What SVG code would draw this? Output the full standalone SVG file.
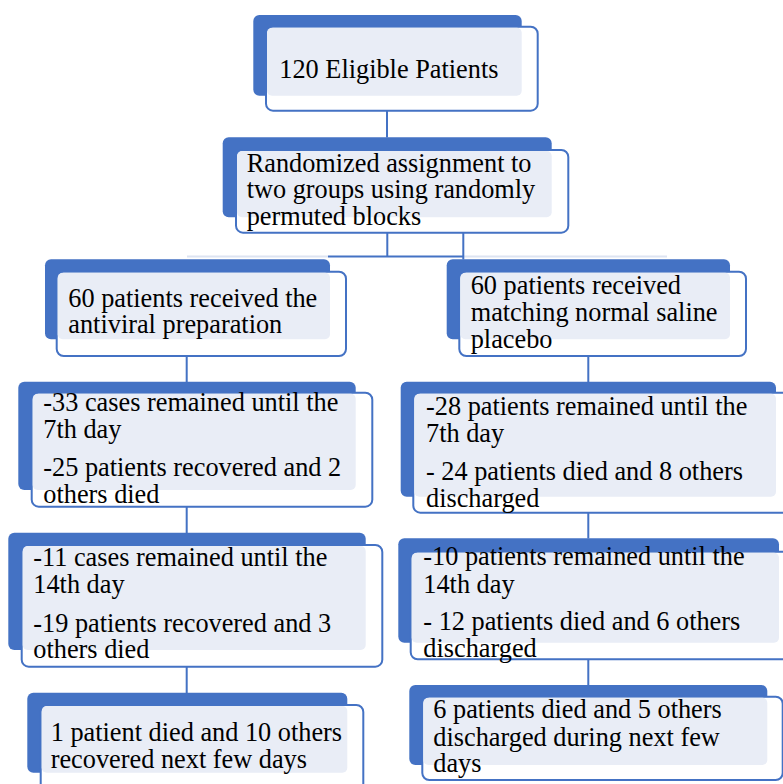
<svg xmlns="http://www.w3.org/2000/svg" width="783" height="784" viewBox="0 0 783 784">
<style>
.back{fill:#4472c4}
.box{fill:#ffffff;stroke:#4472c4;stroke-width:2}
.lite{fill:#e9edf6}
.c{stroke:#4472c4;stroke-width:2;fill:none}
.f{stroke:#dde4f2;stroke-width:2;fill:none}
</style>
<rect width="783" height="784" fill="#ffffff"/>
<g id="connectors">
<path class="f" d="M387 96V111M463.3 218V233M187 256.5H328M463.3 256.5H667M186.7 340V356M588.3 340V356M186.7 490V507M588.3 497V513M186.7 650V667M588.3 643V659"/>
<path class="c" d="M387 111V137.5M387.3 232.7V256.5M463.3 232.7V259.5M328 256.5H463.3M186.7 356V382M588.3 356V382M186.7 506.7V533M588.3 512.7V538.5M186.7 666.7V693M588.3 659.3V685.5"/>
</g>
<g font-family="Liberation Serif, Times New Roman, serif" font-size="26.3" fill="#000000">
<g id="n1">
<rect class="back" x="253.3" y="15" width="268.4" height="80.7" rx="6"/>
<rect class="box" x="266" y="26.7" width="271.7" height="84" rx="7"/>
<rect class="lite" x="267" y="27.7" width="254.7" height="68" rx="5"/>
<text x="279.3" y="78.3">120 Eligible Patients</text>
</g>
<g id="n2">
<rect class="back" x="222.7" y="137.3" width="329" height="80" rx="6"/>
<rect class="box" x="236" y="150" width="332.3" height="82.7" rx="7"/>
<rect class="lite" x="237" y="151" width="314.7" height="66.3" rx="5"/>
<text><tspan x="246.7" y="171.7">Randomized assignment to</tspan><tspan x="246.7" y="198.3">two groups using randomly</tspan><tspan x="246.7" y="225">permuted blocks</tspan></text>
</g>
<g id="n3a">
<rect class="back" x="45" y="259.3" width="285" height="80" rx="6"/>
<rect class="box" x="56.7" y="271.7" width="289.3" height="84.3" rx="7"/>
<rect class="lite" x="57.7" y="272.7" width="272.3" height="66.6" rx="5"/>
<text><tspan x="68.3" y="306.7">60 patients received the</tspan><tspan x="68.3" y="333.3">antiviral preparation</tspan></text>
</g>
<g id="n3b">
<rect class="back" x="446.7" y="259.3" width="283.3" height="80" rx="6"/>
<rect class="box" x="459.3" y="271.7" width="286.7" height="84.3" rx="7"/>
<rect class="lite" x="460.3" y="272.7" width="269.7" height="66.6" rx="5"/>
<text><tspan x="470.7" y="294.3">60 patients received</tspan><tspan x="470.7" y="321">matching normal saline</tspan><tspan x="470.7" y="348.3">placebo</tspan></text>
</g>
<g id="n4a">
<rect class="back" x="18.3" y="381.7" width="337.4" height="108.3" rx="6"/>
<rect class="box" x="31.7" y="392.7" width="340.6" height="114" rx="7"/>
<rect class="lite" x="32.7" y="393.7" width="323" height="96.3" rx="5"/>
<text><tspan x="43.3" y="411">-33 cases remained until the</tspan><tspan x="43.3" y="438.3">7th day</tspan><tspan x="43.3" y="476">-25 patients recovered and 2</tspan><tspan x="43.3" y="503.3">others died</tspan></text>
</g>
<g id="n4b">
<rect class="back" x="400.7" y="381.7" width="375.3" height="115" rx="6"/>
<rect class="box" x="413.3" y="392.7" width="380" height="120" rx="7"/>
<rect class="lite" x="414.3" y="393.7" width="361.7" height="103" rx="5"/>
<text><tspan x="426" y="415">-28 patients remained until the</tspan><tspan x="426" y="441.7">7th day</tspan><tspan x="426" y="480">- 24 patients died and 8 others</tspan><tspan x="426" y="506.7">discharged</tspan></text>
</g>
<g id="n5a">
<rect class="back" x="8.3" y="532.7" width="357.4" height="117.3" rx="6"/>
<rect class="box" x="21.7" y="545" width="360.6" height="121.7" rx="7"/>
<rect class="lite" x="22.7" y="546" width="343" height="104" rx="5"/>
<text><tspan x="33.3" y="566">-11 cases remained until the</tspan><tspan x="33.3" y="593.3">14th day</tspan><tspan x="33.3" y="631.7">-19 patients recovered and 3</tspan><tspan x="33.3" y="658.3">others died</tspan></text>
</g>
<g id="n5b">
<rect class="back" x="398.3" y="538.3" width="380.7" height="104.4" rx="6"/>
<rect class="box" x="410.7" y="551.7" width="383" height="107.6" rx="7"/>
<rect class="lite" x="411.7" y="552.7" width="367.3" height="90" rx="5"/>
<text><tspan x="423.3" y="565">-10 patients remained until the</tspan><tspan x="423.3" y="592.7">14th day</tspan><tspan x="423.3" y="630">- 12 patients died and 6 others</tspan><tspan x="423.3" y="657.3">discharged</tspan></text>
</g>
<g id="n6a">
<rect class="back" x="27.3" y="692.7" width="320" height="80" rx="6"/>
<rect class="box" x="40.7" y="705" width="322.6" height="90" rx="7"/>
<rect class="lite" x="41.7" y="706" width="305.6" height="66.7" rx="5"/>
<text><tspan x="50.7" y="741">1 patient died and 10 others</tspan><tspan x="50.7" y="768.3">recovered next few days</tspan></text>
</g>
<g id="n6b">
<rect class="back" x="409.3" y="685" width="358" height="80" rx="6"/>
<rect class="box" x="422.3" y="696.7" width="360.4" height="83.3" rx="7"/>
<rect class="lite" x="423.3" y="697.7" width="344" height="67.3" rx="5"/>
<text><tspan x="433.3" y="718.3">6 patients died and 5 others</tspan><tspan x="433.3" y="746">discharged during next few</tspan><tspan x="433.3" y="771.7">days</tspan></text>
</g>
</g>
</svg>
